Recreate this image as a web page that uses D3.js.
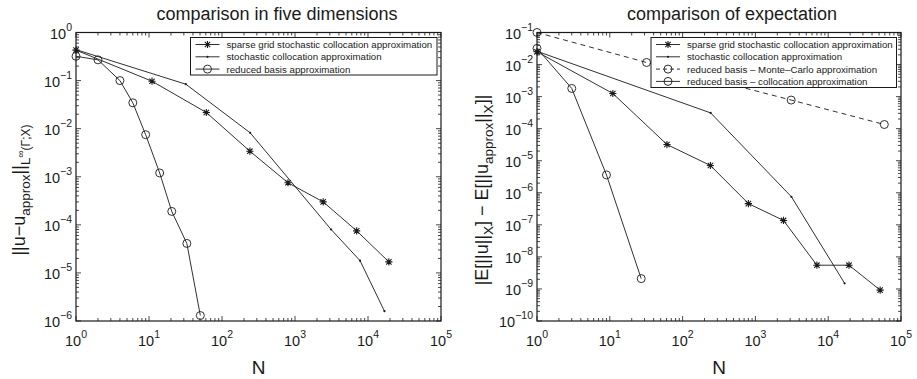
<!DOCTYPE html>
<html><head><meta charset="utf-8">
<script src="https://cdn.jsdelivr.net/npm/d3@7"></script>
<style>
body{margin:0;background:#fff;}
text{font-family:"Liberation Sans",Arial,Helvetica,sans-serif;fill:#1a1a1a;}
</style></head><body>
<svg id="c" width="917" height="379"></svg>
<script>
// ---------- data ----------
// Left panel: comparison in five dimensions
const leftSparseN   = [1, 11, 61, 241, 801, 2433, 6993, 19313];
const leftSparseErr = [0.43, 0.097, 0.0217, 0.0034, 7.5e-4, 3.0e-4, 7.5e-5, 1.7e-5];
const leftCollocN   = [1, 32, 243, 3125, 7776, 16807];
const leftCollocErr = [0.44, 0.084, 0.0082, 8.0e-5, 1.8e-5, 1.6e-6];
const leftRBN       = [1, 2, 4, 6, 9, 14, 20.5, 33, 50.5];
const leftRBErr     = [0.32, 0.27, 0.1, 0.0345, 0.0075, 1.2e-3, 1.9e-4, 4.1e-5, 1.3e-6];
// Right panel: comparison of expectation
const rightSparseN   = [1, 11, 61, 241, 801, 2433, 6993, 19313, 51713];
const rightSparseErr = [0.025, 1.25e-3, 3.2e-5, 7.1e-6, 4.6e-7, 1.37e-7, 5.5e-9, 5.5e-9, 9.2e-10];
const rightCollocN   = [1, 243, 3125, 16807];
const rightCollocErr = [0.026, 3.1e-4, 7.5e-7, 1.5e-9];
const rightMCN       = [1, 32, 3100, 59000];
const rightMCErr     = [0.1, 0.0116, 7.8e-4, 1.35e-4];
const rightRBN       = [1, 3, 9, 27];
const rightRBErr     = [0.032, 1.8e-3, 3.6e-6, 2.1e-9];

const xTickExp = [0, 1, 2, 3, 4, 5];
const leftYTickExp = [-6, -5, -4, -3, -2, -1, 0];
const rightYTickExp = [-10, -9, -8, -7, -6, -5, -4, -3, -2, -1];

const leftLegend = ["sparse grid stochastic collocation approximation",
                    "stochastic collocation approximation",
                    "reduced basis approximation"];
const rightLegend = ["sparse grid stochastic collocation approximation",
                     "stochastic collocation approximation",
                     "reduced basis \u2013 Monte\u2013Carlo approximation",
                     "reduced basis \u2013 collocation approximation"];

// ---------- drawing ----------
const svg = d3.select("#c");
const INK = "#1a1a1a";

function drawMarker(g, type, x, y) {
  if (type === "star") {
    const r = 3.6, d = r * 0.75;
    g.append("path")
      .attr("d", `M${x-r},${y}L${x+r},${y}M${x},${y-r}L${x},${y+r}M${x-d},${y-d}L${x+d},${y+d}M${x-d},${y+d}L${x+d},${y-d}`)
      .attr("stroke", INK).attr("stroke-width", 1.1).attr("fill", "none");
  } else if (type === "circle") {
    g.append("circle").attr("cx", x).attr("cy", y).attr("r", 4)
      .attr("fill", "none").attr("stroke", INK).attr("stroke-width", 0.9);
  } else if (type === "dot") {
    g.append("circle").attr("cx", x).attr("cy", y).attr("r", 1.1).attr("fill", INK);
  }
}

function panel(cfg) {
  const {x0, x1, y0, y1, yExp, series, legend, leg, title, titleX} = cfg;
  const x = d3.scaleLog().domain([1, 1e5]).range([x0, x1]);
  const y = d3.scaleLog().domain([Math.pow(10, yExp[0]), Math.pow(10, yExp[yExp.length-1])]).range([y1, y0]);
  const g = svg.append("g");

  // ticks (inside, all four sides)
  const tg = g.append("g").attr("stroke", INK).attr("stroke-width", 0.8);
  for (let e = 0; e <= 5; e++) {
    for (let m = 1; m <= 9; m++) {
      const v = m * Math.pow(10, e);
      if (v > 1e5) break;
      const px = x(v), L = m === 1 ? 5 : 3;
      tg.append("line").attr("x1", px).attr("x2", px).attr("y1", y1).attr("y2", y1 - L);
      tg.append("line").attr("x1", px).attr("x2", px).attr("y1", y0).attr("y2", y0 + L);
    }
  }
  for (let e = yExp[0]; e <= yExp[yExp.length-1]; e++) {
    for (let m = 1; m <= 9; m++) {
      const v = m * Math.pow(10, e);
      if (v > Math.pow(10, yExp[yExp.length-1]) * 1.0001) break;
      const py = y(v), L = m === 1 ? 5 : 3;
      tg.append("line").attr("y1", py).attr("y2", py).attr("x1", x0).attr("x2", x0 + L);
      tg.append("line").attr("y1", py).attr("y2", py).attr("x1", x1).attr("x2", x1 - L);
    }
  }

  // series
  const line = d3.line().x(d => x(d[0])).y(d => y(d[1]));
  series.forEach(s => {
    const pts = s.n.map((n, i) => [n, s.v[i]]);
    g.append("path").attr("d", line(pts)).attr("fill", "none")
      .attr("stroke", INK).attr("stroke-width", 0.9)
      .attr("stroke-dasharray", s.dash ? "5,4" : null);
    pts.forEach(p => drawMarker(g, s.marker, x(p[0]), y(p[1])));
  });

  // legend
  const lg = g.append("g");
  lg.append("rect").attr("x", leg.x).attr("y", leg.y).attr("width", leg.w).attr("height", leg.h)
    .attr("fill", "#fff").attr("stroke", INK).attr("stroke-width", 1);
  legend.forEach((t, i) => {
    const ry = leg.y + 7 + i * 12.3;
    const s = series[i];
    lg.append("line").attr("x1", leg.x + 5).attr("x2", leg.x + 29).attr("y1", ry).attr("y2", ry)
      .attr("stroke", INK).attr("stroke-width", 0.9).attr("stroke-dasharray", s.dash ? "4,3" : null);
    drawMarker(lg, s.marker, leg.x + 17, ry);
    lg.append("text").attr("x", leg.x + 36).attr("y", ry + 3.5).attr("font-size", 9.7).text(t);
  });

  // box
  g.append("rect").attr("x", x0).attr("y", y0).attr("width", x1 - x0).attr("height", y1 - y0)
    .attr("fill", "none").attr("stroke", INK).attr("stroke-width", 1.2);

  // tick labels
  xTickExp.forEach(e => {
    const t = g.append("text").attr("x", x(Math.pow(10, e))).attr("y", 346)
      .attr("text-anchor", "middle").attr("font-size", 14.5);
    t.append("tspan").text("10");
    t.append("tspan").attr("dy", -8).attr("font-size", 10.5).text(e < 0 ? "\u2212" + (-e) : String(e));
  });
  yExp.forEach(e => {
    const t = g.append("text").attr("x", x0 - 4).attr("y", y(Math.pow(10, e)) + 6)
      .attr("text-anchor", "end").attr("font-size", 14.5);
    t.append("tspan").text("10");
    t.append("tspan").attr("dy", -8).attr("font-size", 10.5).text(e < 0 ? "\u2212" + (-e) : String(e));
  });

  // title & x label
  g.append("text").attr("x", titleX).attr("y", 20).attr("text-anchor", "middle")
    .attr("font-size", 18).text(title);
  g.append("text").attr("x", (x0 + x1) / 2).attr("y", 374).attr("text-anchor", "middle")
    .attr("font-size", 19).text("N");
  return g;
}

const gl = panel({
  x0: 76, x1: 441, y0: 32.5, y1: 321, yExp: leftYTickExp,
  series: [
    {n: leftSparseN, v: leftSparseErr, marker: "star"},
    {n: leftCollocN, v: leftCollocErr, marker: "dot"},
    {n: leftRBN, v: leftRBErr, marker: "circle"}
  ],
  legend: leftLegend, leg: {x: 190.5, y: 37.5, w: 246.5, h: 37.5},
  title: "comparison in five dimensions", titleX: 277
});
const gr = panel({
  x0: 537, x1: 901, y0: 32.5, y1: 321, yExp: rightYTickExp,
  series: [
    {n: rightSparseN, v: rightSparseErr, marker: "star"},
    {n: rightCollocN, v: rightCollocErr, marker: "dot"},
    {n: rightMCN, v: rightMCErr, marker: "circle", dash: true},
    {n: rightRBN, v: rightRBErr, marker: "circle"}
  ],
  legend: rightLegend, leg: {x: 651, y: 37.5, w: 245.5, h: 50},
  title: "comparison of expectation", titleX: 732
});

// y labels
const yl = svg.append("text").attr("transform", "translate(25,190) rotate(-90)")
  .attr("text-anchor", "middle").attr("font-size", 18);
yl.append("tspan").text("||u\u2212u");
yl.append("tspan").attr("dy", 4.5).attr("font-size", 13.5).text("approx");
yl.append("tspan").attr("dy", -4.5).text("||");
yl.append("tspan").attr("dy", 4.5).attr("font-size", 13.5).text("L");
yl.append("tspan").attr("dy", -5.5).attr("font-size", 10).text("\u221E");
yl.append("tspan").attr("dy", 5.5).attr("font-size", 12).text("(\u0393;X)");

const yr = svg.append("text").attr("transform", "translate(488,190) rotate(-90)")
  .attr("text-anchor", "middle").attr("font-size", 18);
yr.append("tspan").text("|E[||u||");
yr.append("tspan").attr("dy", 4.5).attr("font-size", 13.5).text("X");
yr.append("tspan").attr("dy", -4.5).text("] \u2212 E[||u");
yr.append("tspan").attr("dy", 4.5).attr("font-size", 13.5).text("approx");
yr.append("tspan").attr("dy", -4.5).text("||");
yr.append("tspan").attr("dy", 4.5).attr("font-size", 13.5).text("X");
yr.append("tspan").attr("dy", -4.5).text("]|");
</script>
</body></html>
